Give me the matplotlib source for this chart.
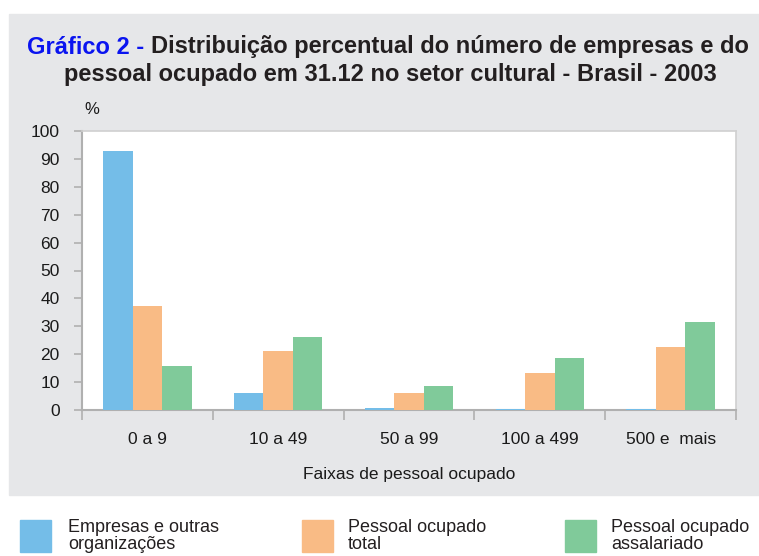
import numpy as np
import matplotlib.pyplot as plt
from matplotlib.patches import Rectangle

categories = ["0 a 9", "10 a 49", "50 a 99", "100 a 499", "500 e  mais"]
empresas = [93.0, 6.1, 0.7, 0.5, 0.2]
pessoal_total = [37.3, 21.1, 6.1, 13.3, 22.6]
pessoal_assal = [15.8, 26.2, 8.6, 18.6, 31.5]
series_labels = ["Empresas e outras\norganizações", "Pessoal ocupado\ntotal", "Pessoal ocupado\nassalariado"]
colors = ["#74bde8", "#f9bb85", "#80ca9a"]

plt.rcParams['font.family'] = ['Liberation Sans', 'DejaVu Sans']

W, H = 759, 556
fig = plt.figure(figsize=(W / 100, H / 100), dpi=100)

# gray panel behind title and chart
fig.patches.append(Rectangle((9 / W, 1 - 495 / H), 1 - 9 / W, (495 - 14) / H,
                             transform=fig.transFigure, color="#e6e7e9", zorder=-10))

ax = fig.add_axes([82 / W, 1 - 410 / H, (736 - 82) / W, (410 - 131) / H])
ax.set_zorder(1)
x = np.arange(len(categories))
w = 0.225
for i, vals in enumerate([empresas, pessoal_total, pessoal_assal]):
    ax.bar(x + (i - 1) * w, vals, width=w, color=colors[i], zorder=3)

ax.set_xlim(-0.5, len(categories) - 0.5)
ax.set_ylim(0, 100)
ax.set_yticks(range(0, 101, 10))
ax.set_xticks(np.arange(-0.5, len(categories), 1))
ax.set_xticklabels([])
ax.set_xticks(x, minor=True)
ax.set_xticklabels(categories, minor=True)
ax.tick_params(axis="x", which="minor", length=0, pad=16, labelsize=12.5, colors="#1a1a1a")
ax.tick_params(axis="x", which="major", length=7, color="#b0b0b0", width=1.2)
ax.tick_params(axis="y", length=6, color="#b0b0b0", width=1.2, labelsize=12.5,
               labelcolor="#1a1a1a", pad=10)
for s in ["left", "bottom"]:
    ax.spines[s].set_color("#b0b0b0")
    ax.spines[s].set_linewidth(1.5)
for s in ["top", "right"]:
    ax.spines[s].set_color("#d0d0d0")
    ax.spines[s].set_linewidth(1.2)
ax.set_xlabel("Faixas de pessoal ocupado", fontsize=12.5, color="#1a1a1a", labelpad=14)

# title
fs = 17
t1 = fig.text(27 / W, 1 - 47 / H, "Gráfico 2 - ", color="#0a14f0", fontsize=fs,
              fontweight="bold", va="center", ha="left")
fig.canvas.draw()
bb = t1.get_window_extent()
fig.text(bb.x1 / W, 1 - 47 / H, "Distribuição percentual do número de empresas e do",
         color="#231f20", fontsize=fs, fontweight="bold", va="center", ha="left")
fig.text(390 / W, 1 - 75 / H, "pessoal ocupado em 31.12 no setor cultural - Brasil - 2003",
         color="#231f20", fontsize=fs, fontweight="bold", va="center", ha="center")
fig.text(92 / W, 1 - 110 / H, "%", fontsize=12, color="#1a1a1a", va="center", ha="center")

# legend
sq_x = [20, 302, 565]
tx_x = [68, 348, 611]
for i in range(3):
    fig.patches.append(Rectangle((sq_x[i] / W, 1 - 552 / H), 31 / W, 32 / H,
                                 transform=fig.transFigure, color=colors[i]))
    fig.text(tx_x[i] / W, 1 - 536 / H, series_labels[i], fontsize=13, color="#231f20",
             va="center", ha="left", linespacing=1.05)

fig.savefig("out.png", dpi=100)
